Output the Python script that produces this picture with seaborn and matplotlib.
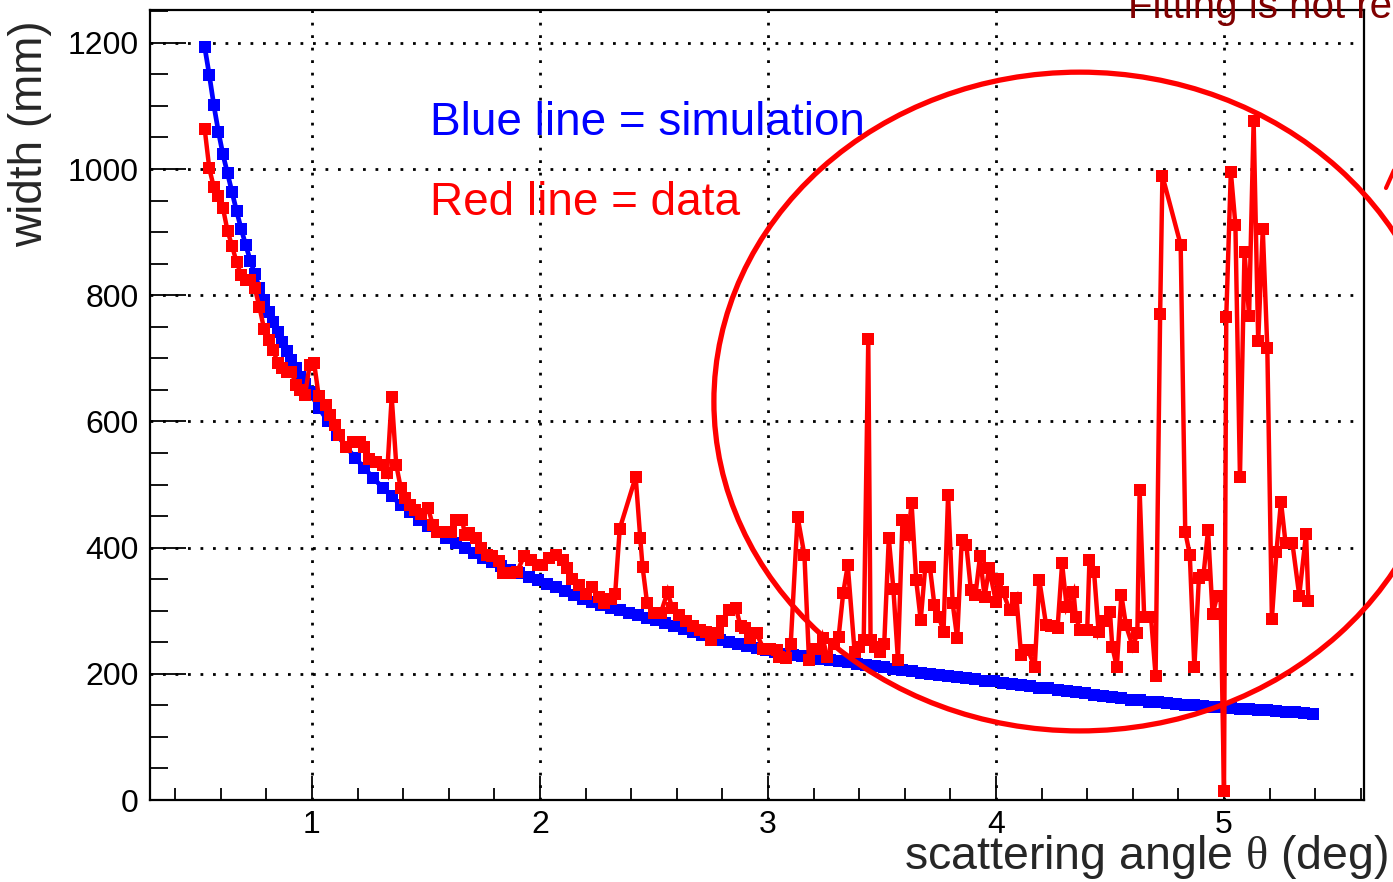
import matplotlib
matplotlib.use("Agg")
import matplotlib.pyplot as plt
from matplotlib.patches import Ellipse
from matplotlib.lines import Line2D
from matplotlib.ticker import MultipleLocator
import seaborn as sns

# ---------------- data ----------------
sim_theta = [0.53, 0.55, 0.57, 0.59, 0.61, 0.63, 0.65, 0.67, 0.69, 0.71, 0.73, 0.75,
             0.77, 0.79, 0.81, 0.83, 0.85, 0.87, 0.89, 0.91, 0.93, 0.95, 0.97, 0.99,
             1.03, 1.07, 1.11, 1.15, 1.19, 1.23, 1.27, 1.31, 1.35, 1.39, 1.43, 1.47, 1.51,
             1.55, 1.59, 1.63, 1.67, 1.71, 1.75, 1.79, 1.83, 1.87, 1.91, 1.95, 1.99,
             2.03, 2.07, 2.11, 2.15, 2.19, 2.23, 2.27, 2.31, 2.35, 2.39, 2.43, 2.47, 2.51,
             2.55, 2.59, 2.63, 2.67, 2.71, 2.75, 2.79, 2.83, 2.87, 2.91, 2.95, 2.99,
             3.03, 3.07, 3.11, 3.15, 3.19, 3.23, 3.27, 3.31, 3.35, 3.39, 3.43, 3.47, 3.51,
             3.55, 3.59, 3.63, 3.67, 3.71, 3.75, 3.79, 3.83, 3.87, 3.91, 3.95, 3.99,
             4.03, 4.07, 4.11, 4.15, 4.19, 4.23, 4.27, 4.31, 4.35, 4.39, 4.43, 4.47, 4.51,
             4.55, 4.59, 4.63, 4.67, 4.71, 4.75, 4.79, 4.83, 4.87, 4.91, 4.95, 4.99,
             5.03, 5.07, 5.11, 5.15, 5.19, 5.23, 5.27, 5.31, 5.35, 5.39]
sim_width = [1193, 1149, 1101, 1059, 1023, 993, 963, 933, 905, 879, 855, 833,
             812, 792, 774, 757, 741, 726, 711, 697, 684, 671, 659, 647,
             622, 600, 579, 560, 542, 526, 510, 495, 481, 468, 456, 444, 434,
             424, 415, 407, 399, 391, 384, 377, 371, 365, 359, 354, 348,
             343, 337, 331, 325, 319, 314, 309, 305, 301, 297, 293, 289, 285,
             281, 276, 271, 266, 262, 258, 254, 250, 247, 244, 241, 238,
             235, 232, 230, 228, 226, 224, 222, 220, 218, 216, 214, 212, 210,
             208, 206, 204, 202, 200, 198, 196, 195, 193, 191, 189, 188,
             186, 184, 182, 180, 178, 177, 175, 173, 171, 169, 167, 165, 163,
             161, 159, 158, 156, 155, 153, 152, 151, 150, 149, 148, 147,
             146, 145, 144, 143, 142, 141, 140, 139, 138, 137]

data_theta = [0.53, 0.55, 0.57, 0.59, 0.61, 0.63, 0.65, 0.67, 0.69, 0.71, 0.73, 0.75,
              0.77, 0.79, 0.81, 0.83, 0.85, 0.87, 0.89, 0.91, 0.93, 0.95, 0.97, 0.99,
              1.01, 1.03, 1.06, 1.08, 1.10, 1.12, 1.15, 1.18, 1.21, 1.23, 1.25, 1.28,
              1.31, 1.33, 1.35, 1.37, 1.39, 1.41, 1.43, 1.45, 1.48, 1.51, 1.53, 1.55,
              1.58, 1.61, 1.63, 1.66, 1.67, 1.69, 1.72, 1.74, 1.77, 1.79, 1.82, 1.84,
              1.87, 1.90, 1.93, 1.96, 1.99, 2.01, 2.04, 2.07, 2.10, 2.12, 2.14, 2.17,
              2.20, 2.23, 2.26, 2.28, 2.31, 2.33, 2.35, 2.42, 2.44, 2.45, 2.47, 2.50,
              2.53, 2.56, 2.58, 2.61, 2.64, 2.67, 2.70, 2.73, 2.75, 2.78, 2.80, 2.83,
              2.86, 2.88, 2.90, 2.92, 2.95, 2.98, 3.01, 3.04, 3.05, 3.08, 3.10, 3.13,
              3.16, 3.18, 3.20, 3.23, 3.24, 3.26, 3.29, 3.31, 3.33, 3.35, 3.38, 3.40,
              3.42, 3.44, 3.45, 3.47, 3.49, 3.51, 3.53, 3.55, 3.57, 3.59, 3.615, 3.63,
              3.65, 3.67, 3.69, 3.71, 3.73, 3.75, 3.77, 3.79, 3.81, 3.83, 3.85, 3.87,
              3.89, 3.91, 3.93, 3.95, 3.97, 4.00, 4.01, 4.03, 4.06, 4.09, 4.11, 4.14,
              4.17, 4.19, 4.22, 4.24, 4.27, 4.29, 4.31, 4.34, 4.35, 4.37, 4.40, 4.41,
              4.43, 4.45, 4.47, 4.50, 4.51, 4.53, 4.55, 4.57, 4.60, 4.62, 4.63, 4.65,
              4.68, 4.70, 4.72, 4.73, 4.81, 4.83, 4.85, 4.87, 4.89, 4.91, 4.93, 4.95,
              4.97, 4.985, 5.00, 5.01, 5.03, 5.05, 5.07, 5.09, 5.11, 5.13, 5.15, 5.17,
              5.19, 5.21, 5.23, 5.25, 5.27, 5.30, 5.33, 5.36, 5.37]
data_width = [1063, 1001, 971, 957, 938, 902, 878, 852, 832, 824, 824, 811,
              781, 747, 729, 713, 693, 684, 679, 679, 658, 650, 642, 689,
              692, 640, 626, 610, 594, 578, 560, 568, 568, 560, 541, 536,
              531, 518, 639, 531, 494, 478, 467, 460, 454, 462, 436, 425,
              425, 424, 444, 444, 420, 423, 415, 399, 388, 386, 378, 359,
              359, 362, 386, 380, 372, 372, 383, 388, 380, 367, 351, 341,
              327, 338, 322, 312, 319, 327, 430, 512, 415, 370, 312, 296,
              296, 330, 304, 293, 283, 275, 269, 267, 254, 264, 283, 301,
              304, 275, 272, 256, 264, 240, 240, 238, 227, 225, 248, 449,
              388, 222, 240, 240, 256, 227, 248, 259, 328, 372, 235, 243,
              254, 730, 254, 243, 235, 248, 415, 335, 222, 444, 420, 470,
              349, 285, 370, 370, 309, 290, 267, 483, 312, 256, 412, 404,
              333, 325, 386, 322, 367, 314, 351, 330, 301, 320, 230, 238,
              211, 349, 277, 275, 272, 375, 306, 330, 290, 269, 269, 380,
              362, 267, 283, 298, 243, 211, 325, 277, 243, 264, 491, 290,
              290, 197, 771, 989, 880, 425, 389, 210, 352, 356, 428, 294,
              323, 324, 15, 766, 996, 912, 512, 869, 767, 1076, 727, 905,
              716, 287, 393, 473, 407, 407, 324, 422, 316]

y_ticks = [0, 200, 400, 600, 800, 1000, 1200]
x_ticks = [1, 2, 3, 4, 5]

# ---------------- style ----------------
sns.set_style("white")
plt.rcParams["font.family"] = ["Liberation Sans", "DejaVu Sans"]
plt.rcParams["mathtext.fontset"] = "custom"
plt.rcParams["mathtext.rm"] = "Liberation Serif"

W, H = 1393, 882
fig = plt.figure(figsize=(W / 100, H / 100), dpi=100)
fig.patch.set_facecolor("white")
ax = fig.add_axes([150 / W, 82 / H, 1214 / W, 790 / H])

sns.lineplot(x=sim_theta, y=sim_width, ax=ax, color="#0000ff", marker="s",
             markersize=8.3, markeredgewidth=0, linewidth=3.4, sort=False,
             estimator=None, solid_joinstyle="miter")
sns.lineplot(x=data_theta, y=data_width, ax=ax, color="#ff0000", marker="s",
             markersize=8.3, markeredgewidth=0, linewidth=3.2, sort=False,
             estimator=None, solid_joinstyle="miter")

ax.set_xlim(0.29, 5.614)
ax.set_ylim(0, 1252)
ax.set_xticks(x_ticks)
ax.set_yticks(y_ticks)
ax.xaxis.set_minor_locator(MultipleLocator(0.2))
ax.yaxis.set_minor_locator(MultipleLocator(50))
ax.grid(True, which="major", color="black", linestyle=(0, (1, 3.5)), linewidth=2)
ax.set_axisbelow(True)

for s in ax.spines.values():
    s.set_color("black")
    s.set_linewidth(1.6)

ax.tick_params(axis="both", which="both", direction="in", colors="black",
               width=1.3, labelsize=23, top=False, right=False,
               bottom=True, left=True)
ax.tick_params(axis="x", which="major", length=17, pad=7)
ax.tick_params(axis="x", which="minor", length=8.5)
ax.tick_params(axis="y", which="major", length=26, pad=8)
ax.tick_params(axis="y", which="minor", length=13)

ax.set_xlabel(r"scattering angle $\mathrm{\theta}$ (deg)", fontsize=33.5,
              loc="right")
ax.xaxis.set_label_coords((1388 - 150) / 1214, (800 - 833) / 790)
ax.set_ylabel("width (mm)", fontsize=33, loc="top")
ax.yaxis.set_label_coords((52 - 150) / 1214, (800 - 20) / 790)

ax.text(1.518, 1054, "Blue line = simulation", color="#0000ff", fontsize=33,
        ha="left", va="baseline")
ax.text(1.518, 927, "Red line = data", color="#ff0000", fontsize=33,
        ha="left", va="baseline")

ell = Ellipse((4.368, 631.5), width=3.21, height=1044, fill=False,
              edgecolor="#ff0000", linewidth=3.8, clip_on=False, zorder=5)
ax.add_patch(ell)

fig.text(1128 / W, 1 - 18 / H, "Fitting is not reliable", color="#800000",
         fontsize=29, ha="left", va="baseline")
fig.add_artist(Line2D([1386 / W, 1395 / W], [1 - 188 / H, 1 - 168 / H],
                      color="#ff0000", linewidth=3))

fig.savefig("out.png", dpi=100, facecolor="white")
